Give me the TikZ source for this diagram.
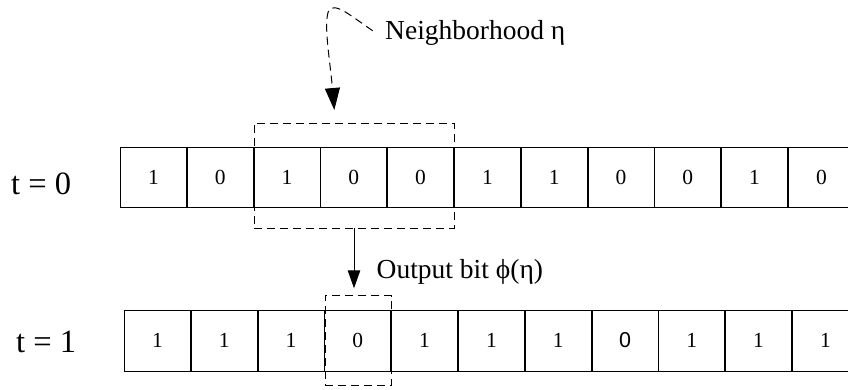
\documentclass[tikz,border=0pt]{standalone}
\usepackage{fontspec}
\setmainfont{Liberation Serif}
\newfontfamily\sansdigit{Liberation Sans}
\usetikzlibrary{arrows.meta}
\begin{document}
\begin{tikzpicture}[x=1pt,y=-1pt,
  cell/.style={draw, line width=0.9pt, minimum width=66pt, minimum height=60.4pt,
    inner sep=0pt, outer sep=0pt, anchor=north west, font=\fontsize{21.5}{26}\selectfont},
  dashbox/.style={draw, line width=1pt, dash pattern=on 8pt off 5pt,
    inner sep=0pt, outer sep=0pt, anchor=north west},
  biglabel/.style={inner sep=0pt, anchor=base west, font=\fontsize{32.5}{38}\selectfont},
  txtlabel/.style={inner sep=0pt, anchor=base west, font=\fontsize{27.5}{32}\selectfont},
  solidarrow/.style={line width=1pt, -{Triangle[length=18pt,width=12.5pt]}},
  curvearrow/.style={line width=1pt, dash pattern=on 8pt off 5pt,
    -{Triangle[length=22pt,width=15pt]}}
]
\useasboundingbox (0,0) rectangle (848,390);
% time labels
\node[biglabel] (t0) at (11,194) {t = 0};
\node[biglabel] (t1) at (16,352) {t = 1};
% top row
\foreach \v [count=\i from 0] in {1,0,1,0,0,1,1,0,0,1,0}
  \node[cell] (a\i) at ({120.4+\i*66.8},147.3) {\v};
% bottom row
\foreach \v [count=\i from 0] in {1,1,1,0,1,1,1,{\sansdigit 0},1,1,1}
  \node[cell, minimum height=61pt] (b\i) at ({124.4+\i*66.8},310) {\v};
% neighbourhood box and output box
\node[dashbox, minimum width=200pt, minimum height=105pt] (nbhd) at (254,123.3) {};
\node[dashbox, minimum width=66.7pt, minimum height=90pt] (obox) at (325,295.7) {};
% labels
\node[txtlabel] (nlab) at (385,39.3) {Neighborhood η};
\node[txtlabel] (olab) at (376.5,278) {Output bit ϕ(η)};
% arrows
\coordinate (cstart) at (372.7,30.7);
\coordinate (cend) at (334.3,110);
\draw[curvearrow] (cstart) .. controls (352,17) and (336,2) .. (329,10)
  .. controls (323,22) and (330,60) .. (cend);
\coordinate (aend) at (354,288.3);
\draw[solidarrow] (nbhd.south) -- (aend);
\end{tikzpicture}
\end{document}
